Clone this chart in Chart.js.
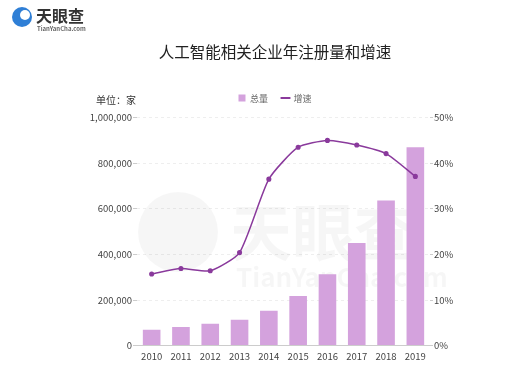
<!DOCTYPE html>
<html>
<head>
<meta charset="utf-8">
<script src="https://cdn.jsdelivr.net/npm/chart.js@4.4.1/dist/chart.umd.min.js"></script>
<style>
  html, body { margin: 0; padding: 0; background: #fff; }
  #wrap { width: 522px; height: 373px; }
</style>
</head>
<body>
<div id="wrap"><canvas id="chart" width="522" height="373"></canvas></div>
<script>
var years = ['2010', '2011', '2012', '2013', '2014', '2015', '2016', '2017', '2018', '2019'];
var totals = [70000, 82000, 96000, 113000, 153000, 218000, 313000, 450000, 636000, 870000];
var growth = [15.7, 16.9, 16.4, 20.4, 36.5, 43.5, 45.0, 44.0, 42.1, 37.1];

var barColor = '#d4a2dd';
var lineColor = '#8a3a9c';
var fontName = '"Noto Sans CJK SC", "Noto Sans", sans-serif';

// a little more room under the legend
var legendGap = {
    id: 'legendGap',
    afterInit: function (chart) {
        var lg = chart.legend;
        if (!lg) return;
        var fit = lg.fit;
        lg.fit = function () {
            fit.call(this);
            this.height += 5;
        };
    }
};

var extras = {
    id: 'extras',
    beforeDatasetsDraw: function (chart) {
        var c = chart.ctx;
        c.save();
        // watermark
        c.globalAlpha = 0.035;
        c.fillStyle = '#000';
        c.beginPath();
        c.arc(178, 232, 40, 0, Math.PI * 2);
        c.fill();
        c.font = 'bold 62px ' + fontName;
        c.textBaseline = 'middle';
        c.fillText('天眼查', 230, 232);
        c.font = 'bold 26px ' + fontName;
        c.fillText('TianYanCha.com', 236, 277);
        c.restore();
    },
    afterDraw: function (chart) {
        var c = chart.ctx;
        c.save();
        // logo
        c.fillStyle = '#2f7fd6';
        c.beginPath();
        c.arc(22, 17, 10, 0, Math.PI * 2);
        c.fill();
        c.fillStyle = '#fff';
        c.beginPath();
        c.arc(25, 15, 5, 0, Math.PI * 2);
        c.fill();
        c.fillStyle = '#333';
        c.font = 'bold 16px ' + fontName;
        c.textBaseline = 'middle';
        c.fillText('天眼查', 36, 16);
        c.font = 'bold 6px ' + fontName;
        c.fillStyle = '#666';
        c.fillText('TianYanCha.com', 37, 29);
        // unit
        c.fillStyle = '#333';
        c.font = '10px ' + fontName;
        c.fillText('单位：家', 96, 100);
        c.restore();
    }
};

new Chart(document.getElementById('chart'), {
    type: 'bar',
    data: {
        labels: years,
        datasets: [{
            type: 'line',
            label: '增速',
            data: growth,
            yAxisID: 'y1',
            borderColor: lineColor,
            backgroundColor: lineColor,
            borderWidth: 1.5,
            pointRadius: 1.8,
            pointHoverRadius: 2,
            tension: 0.2,
            order: 0
        }, {
            label: '总量',
            data: totals,
            yAxisID: 'y',
            backgroundColor: barColor,
            categoryPercentage: 0.62,
            barPercentage: 0.97,
            order: 1
        }]
    },
    options: {
        responsive: false,
        animation: false,
        layout: { padding: { left: 28, right: 0, top: 0, bottom: 6 } },
        plugins: {
            title: {
                display: true,
                text: '人工智能相关企业年注册量和增速',
                color: '#222',
                font: { family: fontName, size: 15.5, weight: 'normal' },
                padding: { top: 43, bottom: 18 }
            },
            legend: {
                display: true,
                reverse: true,
                labels: {
                    boxWidth: 7,
                    boxHeight: 7,
                    color: '#666',
                    font: { family: fontName, size: 9 },
                    padding: 14,
                    usePointStyle: true,
                    generateLabels: function (chart) {
                        var items = Chart.defaults.plugins.legend.labels.generateLabels(chart);
                        items.forEach(function (it) {
                            if (it.text === '增速') {
                                it.pointStyle = 'line';
                                it.lineWidth = 2;
                                it.strokeStyle = lineColor;
                            } else {
                                it.pointStyle = 'rect';
                                it.lineWidth = 0;
                            }
                        });
                        return items;
                    }
                }
            },
            tooltip: { enabled: false }
        },
        scales: {
            x: {
                grid: { display: false, drawTicks: false },
                border: { display: true, color: '#ccc' },
                ticks: { color: '#444', font: { family: fontName, size: 9.5 }, padding: 5 }
            },
            y: {
                position: 'left',
                min: 0,
                max: 1000000,
                afterFit: function (s) { s.width = 109; },
                ticks: {
                    stepSize: 200000,
                    color: '#444',
                    font: { family: fontName, size: 9.5 },
                    padding: 1,
                    callback: function (v) { return v.toLocaleString('en-US'); }
                },
                grid: { color: '#eee', tickLength: 4, tickColor: '#ccc' },
                border: { display: false, dash: [3, 3] }
            },
            y1: {
                position: 'right',
                min: 0,
                max: 50,
                afterFit: function (s) { s.width = 92; },
                ticks: {
                    stepSize: 10,
                    color: '#444',
                    font: { family: fontName, size: 9.5 },
                    padding: 1,
                    callback: function (v) { return v + '%'; }
                },
                grid: { drawOnChartArea: false, tickLength: 3, tickColor: '#ccc' },
                border: { display: false }
            }
        }
    },
    plugins: [legendGap, extras]
});
</script>
</body>
</html>
